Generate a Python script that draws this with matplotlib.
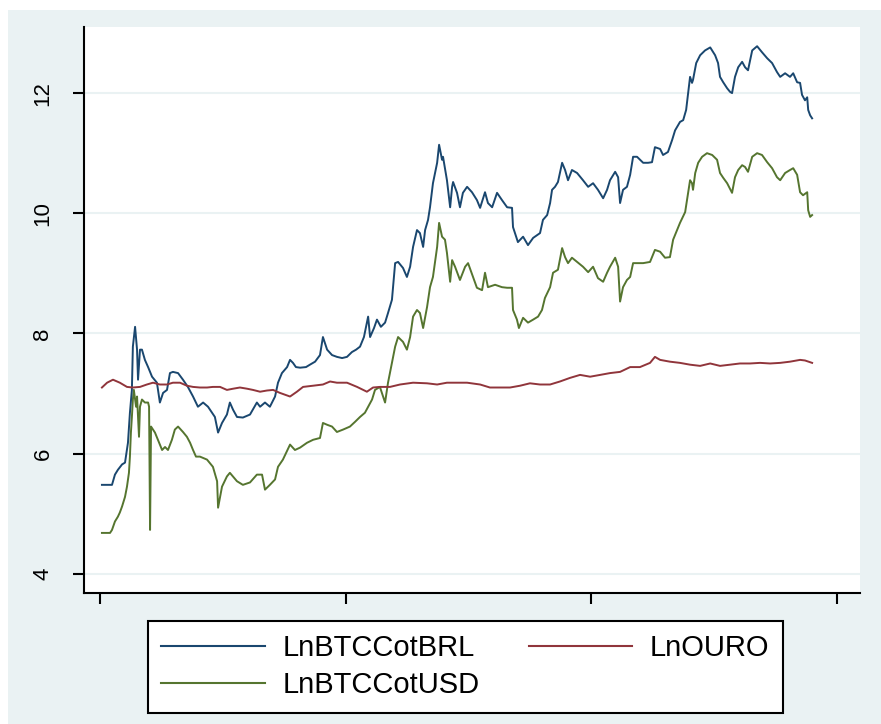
import matplotlib
matplotlib.use("Agg")
import matplotlib.pyplot as plt
from matplotlib.patches import Rectangle

# ---------------- data ----------------
brl_t = [8, 49, 61, 73, 90, 102, 114, 122, 130, 134, 143, 151, 155, 163, 171, 183, 196, 212, 232, 244,
         257, 273, 285, 297, 318, 338, 358, 379, 399, 420, 440, 468, 481, 497, 517, 529, 542, 558, 582, 611,
         639, 652, 672, 692, 713, 725, 741, 762, 774, 786, 798, 815, 839, 855, 876, 896, 908, 925, 945, 965,
         986, 1006, 1026, 1043, 1059, 1075, 1092, 1100, 1116, 1128, 1144, 1161, 1173, 1189, 1202, 1214, 1234, 1250, 1263, 1275,
         1291, 1303, 1316, 1324, 1336, 1344, 1356, 1373, 1381, 1393, 1397, 1413, 1426, 1434, 1438, 1454, 1466, 1478, 1495, 1515,
         1535, 1548, 1568, 1580, 1597, 1617, 1637, 1658, 1678, 1682, 1690, 1702, 1723, 1743, 1764, 1792, 1804, 1821, 1833, 1841,
         1853, 1865, 1882, 1894, 1906, 1922, 1943, 1967, 1988, 2008, 2028, 2049, 2065, 2077, 2098, 2110, 2118, 2130, 2146, 2159,
         2171, 2187, 2212, 2232, 2248, 2260, 2281, 2293, 2313, 2330, 2342, 2362, 2375, 2387, 2395, 2403, 2411, 2415, 2428, 2444,
         2464, 2485, 2505, 2517, 2525, 2538, 2554, 2566, 2574, 2586, 2599, 2615, 2627, 2639, 2656, 2676, 2696, 2717, 2737, 2757,
         2770, 2790, 2810, 2823, 2839, 2851, 2859, 2871, 2880, 2884, 2892, 2900]
brl_v = [5.48, 5.48, 5.65, 5.73, 5.82, 5.85, 6.18, 6.68, 7.06, 7.78, 8.11, 7.73, 7.23, 7.73, 7.73, 7.56, 7.44, 7.28, 7.18, 6.85,
         7.01, 7.06, 7.34, 7.36, 7.34, 7.23, 7.11, 6.95, 6.78, 6.85, 6.78, 6.61, 6.35, 6.51, 6.65, 6.85, 6.73, 6.61, 6.60, 6.65,
         6.85, 6.78, 6.85, 6.78, 6.95, 7.18, 7.34, 7.44, 7.56, 7.51, 7.44, 7.43, 7.44, 7.48, 7.53, 7.64, 7.94, 7.73, 7.64, 7.61,
         7.59, 7.61, 7.69, 7.73, 7.78, 7.94, 8.28, 7.94, 8.09, 8.23, 8.11, 8.18, 8.34, 8.56, 9.17, 9.19, 9.09, 8.94, 9.11, 9.44,
         9.72, 9.67, 9.44, 9.72, 9.89, 10.10, 10.50, 10.84, 11.14, 10.89, 10.94, 10.55, 10.10, 10.44, 10.52, 10.34, 10.10, 10.34, 10.44, 10.35,
         10.22, 10.09, 10.35, 10.17, 10.10, 10.34, 10.22, 10.10, 10.09, 9.77, 9.67, 9.52, 9.61, 9.47, 9.59, 9.67, 9.89, 9.97, 10.17, 10.39,
         10.44, 10.52, 10.84, 10.72, 10.55, 10.72, 10.67, 10.55, 10.44, 10.50, 10.39, 10.25, 10.39, 10.55, 10.69, 10.60, 10.17, 10.39, 10.44, 10.64,
         10.94, 10.94, 10.84, 10.84, 10.85, 11.10, 11.07, 10.97, 11.02, 11.22, 11.38, 11.52, 11.55, 11.72, 12.00, 12.27, 12.17, 12.22, 12.50, 12.63,
         12.71, 12.76, 12.63, 12.50, 12.27, 12.18, 12.08, 12.02, 12.00, 12.27, 12.43, 12.52, 12.43, 12.38, 12.71, 12.78, 12.68, 12.58, 12.50, 12.35,
         12.27, 12.33, 12.27, 12.33, 12.18, 12.17, 11.97, 11.88, 11.93, 11.72, 11.63, 11.58]

ouro_t = [8, 29, 53, 81, 110, 134, 163, 191, 216, 244, 273, 297, 326, 354, 379, 407, 436, 460, 489, 517,
          542, 570, 599, 623, 652, 680, 705, 733, 774, 802, 827, 868, 908, 937, 965, 1006, 1047, 1087, 1112, 1140,
          1181, 1222, 1275, 1332, 1373, 1413, 1454, 1495, 1548, 1588, 1629, 1670, 1711, 1751, 1792, 1833, 1873, 1914, 1955, 1996,
          2037, 2077, 2118, 2159, 2199, 2240, 2260, 2281, 2321, 2362, 2403, 2444, 2485, 2525, 2566, 2606, 2647, 2688, 2729, 2770,
          2810, 2851, 2871, 2900]
ouro_v = [7.10, 7.18, 7.23, 7.18, 7.11, 7.10, 7.11, 7.15, 7.18, 7.15, 7.15, 7.18, 7.18, 7.13, 7.11, 7.10, 7.10, 7.11, 7.11, 7.06,
          7.08, 7.10, 7.08, 7.06, 7.03, 7.05, 7.06, 7.01, 6.95, 7.03, 7.11, 7.13, 7.15, 7.20, 7.18, 7.18, 7.11, 7.03, 7.10, 7.11,
          7.11, 7.15, 7.18, 7.17, 7.15, 7.18, 7.18, 7.18, 7.15, 7.10, 7.10, 7.10, 7.13, 7.17, 7.15, 7.15, 7.20, 7.26, 7.31, 7.28,
          7.31, 7.34, 7.36, 7.44, 7.44, 7.51, 7.61, 7.56, 7.53, 7.51, 7.48, 7.46, 7.50, 7.46, 7.48, 7.50, 7.50, 7.51, 7.50, 7.51,
          7.53, 7.56, 7.55, 7.51]

usd_t = [8, 41, 49, 61, 73, 81, 90, 102, 110, 118, 122, 126, 130, 134, 138, 147, 151, 159, 163, 171,
         183, 196, 200, 204, 208, 224, 236, 253, 265, 277, 293, 305, 318, 338, 354, 367, 379, 391, 407, 436,
         460, 477, 481, 497, 517, 529, 558, 582, 611, 639, 660, 672, 692, 713, 725, 745, 774, 794, 815, 843,
         868, 896, 908, 925, 945, 965, 990, 1018, 1039, 1059, 1079, 1092, 1108, 1120, 1140, 1161, 1173, 1189, 1202, 1214,
         1234, 1250, 1263, 1275, 1291, 1303, 1316, 1332, 1344, 1356, 1373, 1381, 1393, 1405, 1413, 1426, 1434, 1446, 1466, 1487,
         1499, 1519, 1535, 1556, 1568, 1580, 1609, 1637, 1658, 1678, 1682, 1698, 1706, 1723, 1743, 1764, 1784, 1800, 1812, 1833,
         1845, 1865, 1882, 1894, 1906, 1922, 1943, 1967, 1988, 2008, 2028, 2049, 2065, 2077, 2098, 2110, 2118, 2130, 2146, 2159,
         2171, 2191, 2212, 2240, 2260, 2281, 2301, 2321, 2334, 2350, 2362, 2383, 2395, 2403, 2411, 2415, 2424, 2436, 2452, 2472,
         2493, 2513, 2525, 2538, 2554, 2574, 2586, 2599, 2615, 2627, 2639, 2656, 2676, 2696, 2717, 2737, 2757, 2770, 2790, 2810,
         2823, 2839, 2851, 2863, 2880, 2884, 2892, 2900]
usd_v = [4.68, 4.68, 4.73, 4.87, 4.95, 5.02, 5.12, 5.28, 5.45, 5.68, 5.95, 6.35, 6.61, 6.90, 7.06, 6.78, 6.95, 6.28, 6.78, 6.90,
         6.85, 6.85, 6.78, 4.73, 6.45, 6.35, 6.23, 6.06, 6.11, 6.06, 6.23, 6.40, 6.45, 6.36, 6.28, 6.18, 6.06, 5.95, 5.95, 5.90,
         5.78, 5.54, 5.10, 5.45, 5.62, 5.68, 5.54, 5.48, 5.52, 5.65, 5.65, 5.40, 5.48, 5.57, 5.78, 5.90, 6.15, 6.06, 6.10, 6.18,
         6.23, 6.26, 6.51, 6.48, 6.45, 6.36, 6.40, 6.45, 6.53, 6.61, 6.68, 6.78, 6.90, 7.06, 7.11, 6.85, 7.18, 7.51, 7.78, 7.94,
         7.86, 7.73, 7.94, 8.28, 8.39, 8.34, 8.09, 8.44, 8.77, 8.94, 9.44, 9.84, 9.61, 9.56, 9.34, 8.86, 9.22, 9.11, 8.89, 9.11,
         9.17, 8.94, 8.76, 8.72, 9.01, 8.77, 8.81, 8.77, 8.76, 8.76, 8.39, 8.23, 8.09, 8.26, 8.18, 8.23, 8.28, 8.39, 8.59, 8.77,
         9.01, 9.06, 9.42, 9.27, 9.17, 9.26, 9.19, 9.11, 9.02, 9.11, 8.92, 8.86, 9.01, 9.11, 9.26, 9.11, 8.53, 8.77, 8.89, 8.94,
         9.17, 9.17, 9.17, 9.19, 9.39, 9.36, 9.26, 9.27, 9.56, 9.72, 9.84, 10.02, 10.34, 10.55, 10.50, 10.39, 10.67, 10.84, 10.94, 11.00,
         10.97, 10.89, 10.67, 10.59, 10.50, 10.34, 10.60, 10.72, 10.80, 10.77, 10.69, 10.94, 11.00, 10.97, 10.85, 10.75, 10.60, 10.55, 10.67, 10.72,
         10.75, 10.64, 10.35, 10.30, 10.35, 10.05, 9.94, 9.97]

y_ticks = [4, 6, 8, 10, 12]
x_ticks = [0, 1000, 2000, 3000]
labels = ["LnBTCCotBRL", "LnOURO", "LnBTCCotUSD"]
colors = ["#1A476F", "#90353B", "#55752F"]

# ---------------- figure ----------------
plt.rcParams['font.family'] = ['Liberation Sans', 'DejaVu Sans']
W, H = 881, 724
fig = plt.figure(figsize=(W / 100, H / 100), dpi=100, facecolor="white")
fig.patches.append(Rectangle((8 / W, 0), 1, (H - 10) / H, transform=fig.transFigure,
                             facecolor="#EAF2F3", edgecolor="none", zorder=-10))

ax = fig.add_axes([84 / W, 1 - 593 / H, (860 - 84) / W, (593 - 27) / H])
ax.set_facecolor("white")

l1, = ax.plot(brl_t, brl_v, color=colors[0], lw=1.4, label=labels[0], zorder=3)
l2, = ax.plot(ouro_t, ouro_v, color=colors[1], lw=1.4, label=labels[1], zorder=3)
l3, = ax.plot(usd_t, usd_v, color=colors[2], lw=1.4, label=labels[2], zorder=2)

ax.set_xlim(-65, 3095)
ax.set_ylim(3.68, 13.1)
ax.set_yticks(y_ticks)
ax.set_yticklabels([str(v) for v in y_ticks], rotation=90, va="center", fontsize=16)
ax.set_xticks(x_ticks)
ax.set_xticklabels([])
ax.grid(axis="y", color="#EAF2F3", lw=1.5, zorder=0)
ax.set_axisbelow(True)
for s in ["top", "right"]:
    ax.spines[s].set_visible(False)
for s in ["left", "bottom"]:
    ax.spines[s].set_linewidth(1.5)
    ax.spines[s].set_color("black")
ax.tick_params(axis="y", length=8, width=1.5, pad=14, colors="black")
ax.tick_params(axis="x", length=8, width=1.5)

# column-major fill: col 1 = BRL, USD ; col 2 = OURO
leg = fig.legend([l1, l3, l2], [labels[0], labels[2], labels[1]], ncol=2, loc="upper left",
                 bbox_to_anchor=(148 / W, 1 - 621 / H), borderaxespad=0,
                 fontsize=21, handlelength=3.55, handletextpad=0.6, columnspacing=1.7,
                 labelspacing=0.32, borderpad=0.45, frameon=True, fancybox=False,
                 edgecolor="black", facecolor="white", framealpha=1)
leg.get_frame().set_linewidth(1.5)
for h in leg.legend_handles:
    h.set_linewidth(1.5)

fig.savefig("out.png", dpi=100, facecolor=fig.get_facecolor())
